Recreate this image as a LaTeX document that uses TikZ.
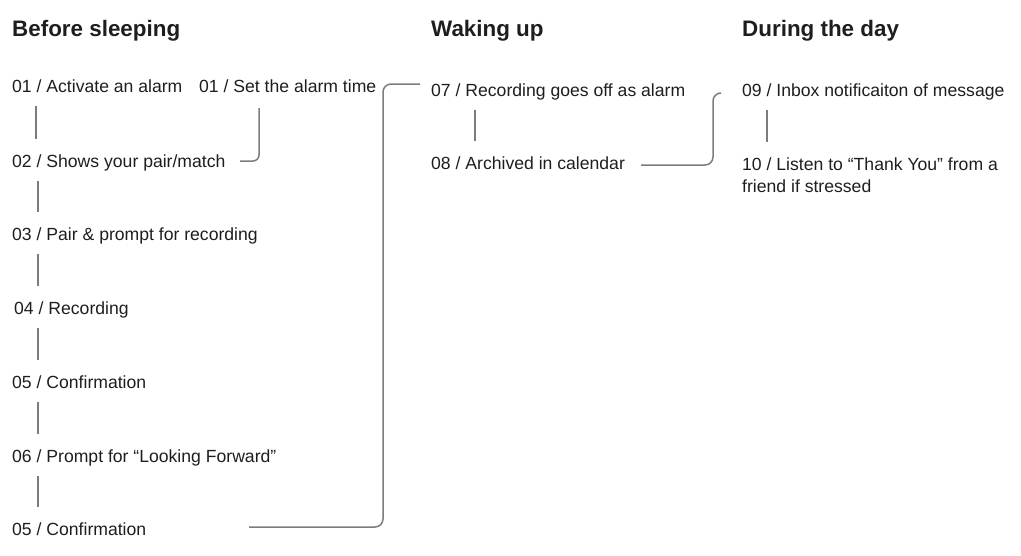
\documentclass[tikz,border=0pt]{standalone}
\usepackage{fontspec}
\setmainfont{Liberation Sans}
\usetikzlibrary{calc}

\definecolor{inkdark}{HTML}{1E1E1E}
\definecolor{linkgray}{HTML}{7C7C7C}

\begin{document}
\begin{tikzpicture}[x=1pt,y=-1pt,
    heading/.style={anchor=base west,inner sep=0,text=inkdark,font=\fontsize{22.4}{26}\selectfont\bfseries},
    stepnode/.style={anchor=base west,inner sep=0,text=inkdark,text height=13pt,text depth=4pt,font=\fontsize{17.6}{22}\selectfont},
    link/.style={draw=linkgray,line width=1.5pt,shorten <=10pt,shorten >=15pt},
    bentlink/.style={draw=linkgray,line width=1.5pt,rounded corners=8pt}]

  \useasboundingbox (0,0) rectangle (1021,555);

  % Column headings
  \node[heading] (hBefore) at (12,36) {Before sleeping};
  \node[heading] (hWaking) at (431,36) {Waking up};
  \node[heading] (hDay) at (742,36) {During the day};

  % Before sleeping
  \node[stepnode] (b01a) at (12,92) {01 / Activate an alarm};
  \node[stepnode] (b01b) at (199,92) {01 / Set the alarm time};
  \node[stepnode] (b02) at (12,167) {02 / Shows your pair/match};
  \node[stepnode] (b03) at (12,240) {03 / Pair \& prompt for recording};
  \node[stepnode] (b04) at (14,314) {04 / Recording};
  \node[stepnode] (b05a) at (12,388) {05 / Confirmation};
  \node[stepnode] (b06) at (12,462) {06 / Prompt for “Looking Forward”};
  \node[stepnode] (b05b) at (12,535) {05 / Confirmation};

  % Waking up
  \node[stepnode] (w07) at (431,96) {07 / Recording goes off as alarm};
  \node[stepnode] (w08) at (431,169) {08 / Archived in calendar};

  % During the day (base of a two-line node is its last line)
  \node[stepnode] (d09) at (742,96) {09 / Inbox notificaiton of message};
  \node[stepnode,text height=,text depth=,align=left] (d10) at (742,192)
    {10 / Listen to “Thank You” from a\\friend if stressed};

  % Rails for the short links
  \coordinate (railA) at (36,0);
  \coordinate (railB) at (38,0);
  \coordinate (railW) at (475,0);
  \coordinate (railD) at (767,0);

  % Short links down each column
  \draw[link] (b01a.south -| railA) -- (b02.north -| railA);
  \foreach \a/\b in {b02/b03,b03/b04,b04/b05a,b05a/b06,b06/b05b}
    \draw[link] (\a.south -| railB) -- (\b.north -| railB);
  \draw[link] (w07.south -| railW) -- (w08.north -| railW);
  \draw[link] (d09.south -| railD) -- (d10.north -| railD);

  % Bent links
  \draw[bentlink,rounded corners=6pt] ([shift={(60,16)}]b01b.base west) |- ([shift={(228,-6)}]b02.base west);
  \draw[bentlink] ([shift={(237,-8)}]b05b.base west) -- ++(134,0) |- ([shift={(-11,-12)}]w07.base west);
  \draw[bentlink] ([shift={(210,-4)}]w08.base west) -- ++(72,0) |- ([shift={(-23,-3)}]d09.base west);
\end{tikzpicture}
\end{document}
